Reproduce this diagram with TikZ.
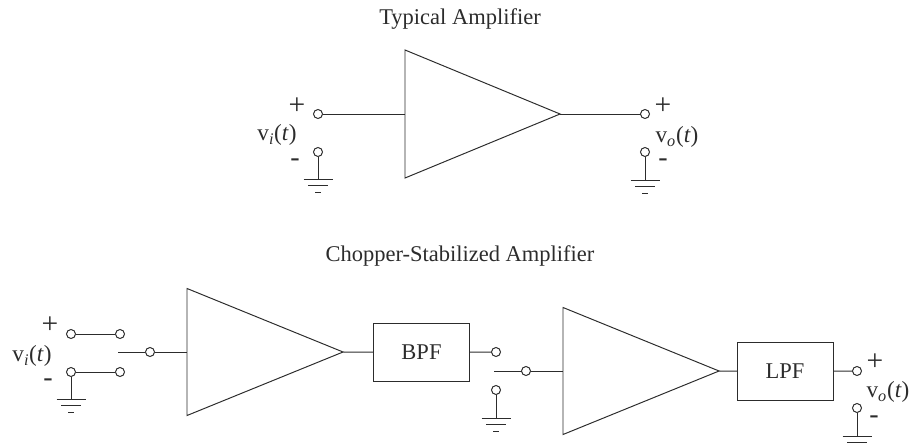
\documentclass[tikz,border=0pt]{standalone}
\usepackage{fontspec}
\setmainfont{Liberation Serif}
\usetikzlibrary{shapes.geometric}
\definecolor{Ink}{HTML}{2C2C2C}
\newcommand{\sigv}[1]{v\textsubscript{\itshape #1}(\textit{t})}
\tikzset{
amp/.style={isosceles triangle,isosceles triangle apex angle=79,isosceles triangle stretches,shape border rotate=0,draw=Ink,line width=0.7pt,inner sep=0pt,outer sep=0pt,minimum width=3.2cm,minimum height=3.875cm,anchor=lower side},
filterbox/.style={rectangle,draw=Ink,line width=0.7pt,inner sep=0pt,outer sep=0pt,minimum width=2.4cm,minimum height=1.43cm,text=Ink,font=\fontsize{16}{18}\selectfont},
port/.style={circle,draw=Ink,line width=0.7pt,fill=white,inner sep=0pt,outer sep=0pt,minimum size=0.225cm},
wire/.style={draw=Ink,line width=0.7pt},
title/.style={text=Ink,font=\fontsize{16}{18}\selectfont},
sig/.style={text=Ink,inner sep=0pt,font=\fontsize{16.5}{18}\selectfont},
plus/.style={text=Ink,inner sep=0pt,font=\fontsize{21}{22}\selectfont},
minus/.style={text=Ink,inner sep=0pt,font=\fontsize{20}{22}\selectfont},
gnd/.pic={\draw[wire] (-14.5,0) -- (14.5,0) (-10,6) -- (10,6);\draw[wire] (-3,13) -- (3,13);}
}
\begin{document}
\begin{tikzpicture}[x=0.025cm,y=-0.025cm]
\useasboundingbox (0,0) rectangle (916,447);
\node[title] (T1) at (460,19) {Typical Amplifier};
\node[title] (T2) at (460,256) {Chopper-Stabilized Amplifier};

\node[amp] (A1) at (405,114) {};
\node[port] (IN1) at (318,114) {};
\node[port] (IG1) at (318,152) {};
\node[port] (OUT1) at (645,114) {};
\node[port] (OG1) at (645,152) {};
\coordinate (G1) at (318,179);
\coordinate (G2) at (645,180);
\draw[wire] (IN1) -- (A1.lower side);
\draw[wire] (A1.apex) -- (OUT1);
\draw[wire] (IG1) -- (G1);
\draw[wire] (OG1) -- (G2);
\pic at (G1) {gnd};
\pic at (G2) {gnd};
\node[plus] (P1) at (297,106) {+};
\node[sig] (V1) at (277,135) {\sigv{i}};
\node[minus] (M1) at (295,163) {-};
\node[plus] (P2) at (663,106) {+};
\node[sig] (V2) at (677,137) {\sigv{o}};
\node[minus] (M2) at (663,163) {-};

\node[port] (S1) at (71,334) {};
\node[port] (S2) at (120,334) {};
\node[port] (S3) at (71,372) {};
\node[port] (S4) at (120,372) {};
\node[port] (S5) at (150,352) {};
\coordinate (K1) at (118,352);
\node[amp,minimum height=3.9cm,minimum width=3.175cm] (A2) at (187,352) {};
\node[filterbox] (BPF) at (421.5,352.5) {BPF};
\node[port] (S6) at (496,352) {};
\node[port] (S7) at (496,390) {};
\node[port] (S8) at (526,371) {};
\coordinate (K2) at (494,371);
\node[amp,minimum height=3.9cm,minimum width=3.175cm] (A3) at (563,371) {};
\node[filterbox] (LPF) at (785,371.5) {LPF};
\node[port] (S9) at (857,371) {};
\node[port] (S10) at (857,408) {};
\coordinate (G3) at (71,399);
\coordinate (G4) at (496,418);
\coordinate (G5) at (857,436);
\draw[wire] (S1) -- (S2);
\draw[wire] (S3) -- (S4);
\draw[wire] (K1) -- (S5);
\draw[wire] (S5) -- (A2.lower side);
\draw[wire] (A2.apex) -- (BPF);
\draw[wire] (BPF) -- (S6);
\draw[wire] (K2) -- (S8);
\draw[wire] (S8) -- (A3.lower side);
\draw[wire] (A3.apex) -- (LPF);
\draw[wire] (LPF) -- (S9);
\draw[wire] (S3) -- (G3);
\draw[wire] (S7) -- (G4);
\draw[wire] (S10) -- (G5);
\pic at (G3) {gnd};
\pic at (G4) {gnd};
\pic at (G5) {gnd};
\node[plus] (P3) at (50,325) {+};
\node[sig] (V3) at (32,356) {\sigv{i}};
\node[minus] (M3) at (48,383) {-};
\node[plus] (P4) at (875,362) {+};
\node[sig] (V4) at (888,392) {\sigv{o}};
\node[minus] (M4) at (874,420) {-};
\end{tikzpicture}
\end{document}
